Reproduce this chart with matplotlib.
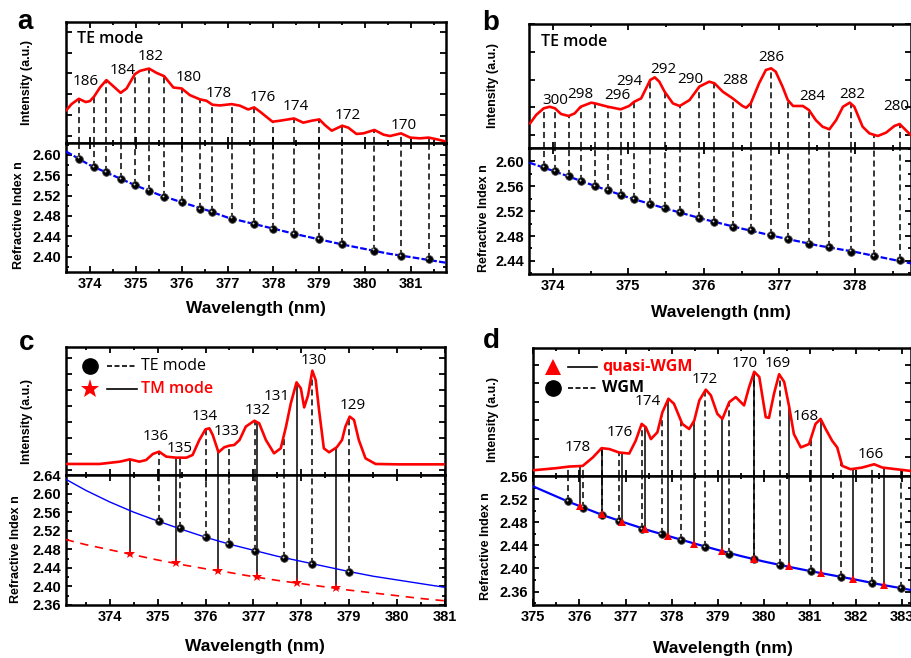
import numpy as np
import matplotlib.pyplot as plt
from matplotlib.ticker import MultipleLocator, FormatStrFormatter, FixedLocator
from matplotlib.transforms import offset_copy

plt.rcParams['font.family'] = ['Liberation Sans', 'DejaVu Sans']
plt.rcParams['font.weight'] = 'bold'
NUM_FONT = ['Open Sans', 'DejaVu Sans']

W, H = 912, 658
RED = '#ff0000'
BLUE = '#0000ff'

# ---------------- panel a (TE mode) ----------------
a_te_wl = [373.76, 374.09, 374.36, 374.67, 374.98, 375.29, 375.62, 376.00, 376.40, 376.67,
           377.09, 377.58, 377.98, 378.45, 379.00, 379.50, 380.20, 380.78, 381.38]
a_te_n = [2.593, 2.577, 2.566, 2.553, 2.541, 2.530, 2.518, 2.507, 2.494, 2.487,
          2.475, 2.464, 2.455, 2.445, 2.434, 2.424, 2.412, 2.402, 2.395]
a_fit_wl = [373.48, 374.0, 374.5, 375.0, 375.5, 376.0, 376.5, 377.0, 377.5, 378.0,
            378.5, 379.0, 379.5, 380.0, 380.5, 381.0, 381.76]
a_fit_n = [2.607, 2.580, 2.560, 2.540, 2.522, 2.507, 2.493, 2.477, 2.466, 2.455,
           2.444, 2.434, 2.424, 2.415, 2.406, 2.399, 2.388]
a_spec_wl = [373.49, 373.60, 373.76, 373.91, 374.00, 374.09, 374.22, 374.36, 374.51, 374.67,
             374.80, 374.98, 375.09, 375.29, 375.45, 375.62, 375.82, 376.00, 376.18, 376.40,
             376.54, 376.67, 376.83, 377.09, 377.27, 377.45, 377.58, 377.71, 377.98, 378.14,
             378.45, 378.65, 378.83, 379.00, 379.12, 379.27, 379.50, 379.63, 379.81, 379.96,
             380.20, 380.40, 380.54, 380.78, 380.98, 381.19, 381.38, 381.56, 381.76]
a_spec_int = [27.4, 32.3, 36.7, 34.0, 34.8, 38.4, 46.0, 52.1, 47.1, 41.6,
              45.2, 57.0, 59.7, 61.6, 58.1, 55.3, 46.0, 45.2, 39.7, 36.2,
              35.1, 31.8, 31.2, 32.3, 31.0, 27.9, 29.6, 26.0, 17.8, 18.6,
              20.5, 17.0, 18.6, 19.7, 15.1, 10.4, 14.5, 12.9, 7.7, 8.2,
              11.0, 7.1, 6.0, 8.2, 4.7, 4.1, 4.7, 3.3, 1.4]
a_lab_txt = ['186', '184', '182', '180', '178', '176', '174', '172', '170']
a_lab_wl = [373.91, 374.71, 375.32, 376.16, 376.81, 377.76, 378.48, 379.63, 380.83]
a_lab_int = [50.7, 59.7, 71.2, 54.0, 41.0, 37.5, 30.0, 23.3, 15.0]

# ---------------- panel b (TE mode) ----------------
b_te_wl = [373.88, 374.03, 374.21, 374.37, 374.56, 374.73, 374.90, 375.08, 375.29, 375.48, 375.68,
           375.94, 376.14, 376.38, 376.62, 376.89, 377.11, 377.39, 377.66, 377.95, 378.25, 378.59]
b_te_n = [2.591, 2.585, 2.576, 2.568, 2.561, 2.554, 2.546, 2.539, 2.531, 2.525, 2.518,
          2.509, 2.502, 2.495, 2.489, 2.481, 2.475, 2.468, 2.462, 2.455, 2.448, 2.441]
b_fit_wl = [373.69, 374.0, 374.5, 375.0, 375.5, 376.0, 376.5, 377.0, 377.5, 378.0, 378.74]
b_fit_n = [2.598, 2.585, 2.563, 2.542, 2.524, 2.507, 2.492, 2.478, 2.465, 2.4545, 2.436]
b_spec_wl = [373.70, 373.78, 373.88, 373.96, 374.03, 374.11, 374.21, 374.29, 374.37, 374.51,
             374.56, 374.73, 374.90, 375.01, 375.08, 375.17, 375.29, 375.35, 375.41, 375.48,
             375.59, 375.68, 375.81, 375.94, 376.07, 376.14, 376.25, 376.38, 376.51, 376.56,
             376.62, 376.73, 376.82, 376.89, 376.95, 377.04, 377.11, 377.18, 377.31, 377.39,
             377.48, 377.57, 377.66, 377.75, 377.84, 377.93, 377.99, 378.10, 378.19, 378.30,
             378.41, 378.52, 378.59, 378.67, 378.74]
b_spec_int = [19.7, 26.5, 31.9, 33.2, 31.9, 27.3, 25.7, 27.8, 33.2, 36.5,
              35.9, 33.2, 31.1, 33.8, 37.3, 40.0, 54.9, 57.0, 53.5, 45.4,
              35.9, 33.8, 38.6, 49.5, 53.5, 52.2, 45.4, 40.0, 33.8, 32.4,
              35.9, 52.2, 63.0, 64.3, 61.6, 49.5, 38.6, 33.8, 33.8, 30.5,
              22.4, 17.0, 14.9, 22.4, 33.2, 36.5, 33.2, 17.0, 11.6, 9.5,
              12.2, 17.6, 19.2, 14.3, 10.0]
b_lab_txt = ['300', '298', '296', '294', '292', '290', '288', '286', '284', '282', '280']
b_lab_wl = [374.04, 374.37, 374.85, 375.01, 375.46, 375.82, 376.42, 376.89, 377.43, 377.97, 378.54]
b_lab_int = [38.6, 43.2, 41.9, 53.5, 63.0, 54.9, 54.3, 73.2, 41.4, 43.2, 33.2]

# ---------------- panel c (TE / TM) ----------------
c_te_wl = [375.03, 375.46, 376.00, 376.48, 377.04, 377.64, 378.23, 378.99]
c_te_n = [2.540, 2.525, 2.506, 2.492, 2.477, 2.462, 2.449, 2.431]
c_tm_wl = [374.42, 375.39, 376.27, 377.07, 377.90, 378.72]
c_tm_n = [2.469, 2.450, 2.433, 2.420, 2.407, 2.396]
c_fit_wl = [373.08, 373.5, 374.0, 374.5, 375.0, 375.5, 376.0, 376.5, 377.0, 377.5, 378.0,
            378.5, 379.0, 379.5, 380.0, 380.5, 381.0]
c_te_fit_n = [2.631, 2.607, 2.582, 2.560, 2.541, 2.523, 2.506, 2.491, 2.478, 2.465, 2.454,
              2.443, 2.432, 2.422, 2.414, 2.406, 2.398]
c_tm_fit_n = [2.501, 2.490, 2.479, 2.468, 2.457, 2.447, 2.438, 2.430, 2.421, 2.413, 2.406,
              2.399, 2.392, 2.386, 2.380, 2.374, 2.369]
c_spec_wl = [373.08, 373.79, 374.21, 374.42, 374.62, 374.76, 374.90, 375.03, 375.18, 375.39,
             375.60, 375.73, 375.87, 376.00, 376.08, 376.15, 376.27, 376.39, 376.50, 376.60,
             376.71, 376.84, 377.02, 377.12, 377.26, 377.43, 377.57, 377.68, 377.78, 377.90,
             377.99, 378.06, 378.14, 378.23, 378.30, 378.37, 378.47, 378.58, 378.74, 378.85,
             378.92, 379.01, 379.10, 379.20, 379.34, 379.55, 380.03, 380.97]
c_spec_int = [8.6, 8.6, 10.4, 12.2, 10.4, 11.7, 16.4, 18.2, 14.3, 13.5,
              13.5, 15.6, 27.3, 35.6, 36.4, 31.2, 17.7, 21.6, 22.9, 23.4,
              27.3, 37.7, 42.3, 40.3, 27.3, 16.9, 20.8, 37.7, 55.8, 72.2,
              67.5, 52.7, 62.0, 81.3, 74.0, 50.6, 20.8, 17.7, 21.6, 27.3,
              37.7, 45.5, 42.9, 27.3, 13.0, 8.6, 8.3, 8.3]
c_lab_txt = ['136', '135', '134', '133', '132', '131', '130', '129']
c_lab_wl = [374.96, 375.46, 375.99, 376.45, 377.09, 377.49, 378.25, 379.08]
c_lab_int = [29.9, 20.8, 45.5, 33.8, 50.1, 61.0, 89.1, 54.0]

# ---------------- panel d (WGM / quasi-WGM) ----------------
d_wgm_wl = [375.75, 376.08, 376.48, 376.86, 377.35, 377.78, 378.20, 378.73, 379.24, 379.79,
            380.34, 381.03, 381.67, 382.34, 382.98]
d_wgm_n = [2.516, 2.5055, 2.4926, 2.4821, 2.4689, 2.4589, 2.449, 2.4375, 2.4258, 2.4165,
           2.4053, 2.3949, 2.3851, 2.3746, 2.3659]
d_qwgm_wl = [376.01, 376.48, 376.92, 377.42, 377.92, 378.49, 379.09, 379.79, 380.55, 381.23,
             381.93, 382.60]
d_qwgm_n = [2.5083, 2.4938, 2.4804, 2.4676, 2.456, 2.4432, 2.4298, 2.417, 2.4036, 2.3921,
            2.3816, 2.3717]
d_fit_wl = [375.0, 375.75, 376.5, 377.0, 377.5, 378.0, 378.5, 379.0, 379.5, 380.0, 380.5,
            381.0, 381.5, 382.0, 382.5, 383.0, 383.2]
d_fit_n = [2.542, 2.516, 2.4925, 2.479, 2.466, 2.4545, 2.443, 2.432, 2.4215, 2.412, 2.4035,
           2.3955, 2.388, 2.3805, 2.3725, 2.3655, 2.3625]
d_spec_wl = [375.00, 375.49, 375.78, 376.07, 376.29, 376.48, 376.65, 376.86, 377.08, 377.22,
             377.35, 377.44, 377.55, 377.69, 377.80, 377.93, 378.05, 378.23, 378.38, 378.49,
             378.60, 378.74, 378.85, 378.99, 379.10, 379.25, 379.39, 379.57, 379.68, 379.79,
             379.90, 380.04, 380.11, 380.22, 380.33, 380.44, 380.55, 380.65, 380.80, 380.98,
             381.12, 381.23, 381.34, 381.48, 381.59, 381.70, 381.88, 382.13, 382.39, 382.57,
             383.20]
d_spec_int = [4.5, 6.1, 7.4, 7.9, 14.5, 21.8, 21.1, 18.4, 17.6, 27.6,
              40.8, 38.2, 28.9, 34.2, 50.0, 60.5, 56.6, 40.8, 36.8, 43.4,
              59.2, 67.6, 63.2, 48.7, 44.7, 57.9, 61.8, 55.3, 69.7, 81.6,
              77.6, 46.1, 45.5, 64.5, 79.7, 73.7, 53.9, 32.9, 22.4, 25.0,
              40.8, 44.7, 36.8, 27.6, 22.4, 7.9, 5.3, 6.6, 9.2, 6.6,
              3.9]
d_lab_txt = ['178', '176', '174', '172', '170', '169', '168', '166']
d_lab_wl = [375.97, 376.88, 377.49, 378.72, 379.59, 380.31, 380.91, 382.31]
d_lab_int = [22.4, 33.7, 58.7, 75.5, 88.2, 88.2, 46.6, 16.6]


fig = plt.figure(figsize=(W / 100, H / 100), dpi=100)


def box(l, t, r, b):
    return [l / W, 1 - b / H, (r - l) / W, (b - t) / H]


def ftext(x, y, s, **kw):
    fig.text(x / W, 1 - y / H, s, **kw)


def style(ax):
    ax.tick_params(which='both', direction='in', top=True, right=True,
                   bottom=True, left=True, width=1.3, labelsize=10.5)
    ax.tick_params(which='major', length=4.5)
    ax.tick_params(which='minor', length=2.5)
    ax.xaxis.set_major_locator(MultipleLocator(1))
    ax.xaxis.set_minor_locator(MultipleLocator(0.5))
    for s in ax.spines.values():
        s.set_linewidth(1.8)


def make_pair(l, t, mid, r, b, xlim, nlim, ytick_int):
    top = fig.add_axes(box(l, t, r, mid))
    bot = fig.add_axes(box(l, mid, r, b))
    for ax in (top, bot):
        style(ax)
        ax.set_xlim(*xlim)
    top.set_ylim(0, 100)
    top.yaxis.set_major_locator(FixedLocator(ytick_int))
    top.tick_params(labelbottom=False, labelleft=False)
    bot.set_ylim(*nlim)
    bot.yaxis.set_major_locator(MultipleLocator(0.04))
    bot.yaxis.set_minor_locator(MultipleLocator(0.02))
    bot.yaxis.set_major_formatter(FormatStrFormatter('%.2f'))
    return top, bot


def spectrum(ax, wl, inten):
    ax.plot(wl, inten, color=RED, lw=1.9, zorder=4)


def drop_lines(top, bot, wl, n, spec_wl, spec_int, ls):
    h = np.interp(wl, spec_wl, spec_int)
    top.vlines(wl, 0, h, colors='black', lw=1.1, linestyles=ls, zorder=3)
    bot.vlines(wl, n, bot.get_ylim()[1], colors='black', lw=1.1, linestyles=ls, zorder=2)


def balls(ax, wl, n, ms=5.5):
    ax.plot(wl, n, 'o', color='black', mec='#444444', mew=0.6, ms=ms, zorder=5)
    hl = offset_copy(ax.transData, fig=fig, x=-0.8, y=0.8, units='points')
    ax.plot(wl, n, 'o', color='#d0d0d0', ms=1.4, mew=0, transform=hl, zorder=6)


def mode_labels(ax, txt, wl, inten):
    for s, x, y in zip(txt, wl, inten):
        ax.text(x, y, s, ha='center', va='center', fontsize=11,
                fontweight='normal', family=NUM_FONT, zorder=7)


DASH = (0, (4, 2.5))

# ---- a ----
at, ab = make_pair(66, 22, 143.3, 446, 271.7, (373.48, 381.76), (2.3704, 2.623),
                   np.arange(6, 100, 17.2))
spectrum(at, a_spec_wl, a_spec_int)
drop_lines(at, ab, a_te_wl, a_te_n, a_spec_wl, a_spec_int, DASH)
ab.plot(a_fit_wl, a_fit_n, color=BLUE, lw=1.6, ls=(0, (3, 1)), zorder=4)
balls(ab, a_te_wl, a_te_n)
mode_labels(at, a_lab_txt, a_lab_wl, a_lab_int)
at.text(0.03, 0.86, 'TE mode', transform=at.transAxes, fontsize=11.5,
        fontweight='semibold', family=NUM_FONT, va='center')

# ---- b ----
bt, bb = make_pair(529.3, 24.3, 147.7, 911, 274.3, (373.69, 378.74), (2.4185, 2.622),
                   np.arange(10.3, 100, 22.4))
spectrum(bt, b_spec_wl, b_spec_int)
drop_lines(bt, bb, b_te_wl, b_te_n, b_spec_wl, b_spec_int, DASH)
bb.plot(b_fit_wl, b_fit_n, color=BLUE, lw=1.6, ls=(0, (3, 1)), zorder=4)
balls(bb, b_te_wl, b_te_n)
mode_labels(bt, b_lab_txt, b_lab_wl, b_lab_int)
bt.text(0.03, 0.86, 'TE mode', transform=bt.transAxes, fontsize=11.5,
        fontweight='semibold', family=NUM_FONT, va='center')

# ---- c ----
ct, cb = make_pair(65.7, 346.7, 475, 445, 605, (373.08, 381.0), (2.36, 2.6401),
                   np.arange(4, 100, 12.5))
spectrum(ct, c_spec_wl, c_spec_int)
drop_lines(ct, cb, c_te_wl, c_te_n, c_spec_wl, c_spec_int, DASH)
drop_lines(ct, cb, c_tm_wl, c_tm_n, c_spec_wl, c_spec_int, 'solid')
cb.plot(c_fit_wl, c_te_fit_n, color=BLUE, lw=1.0, zorder=4)
cb.plot(c_fit_wl, c_tm_fit_n, color=RED, lw=1.2, ls=(0, (5, 4)), zorder=4)
balls(cb, c_te_wl, c_te_n)
cb.plot(c_tm_wl, c_tm_n, '*', color=RED, ms=8, mew=0, zorder=5)
mode_labels(ct, c_lab_txt, c_lab_wl, c_lab_int)
ct.plot([0.064], [0.852], 'o', color='black', ms=11, transform=ct.transAxes)
ct.plot([0.109, 0.188], [0.852, 0.852], color='black', lw=1.2, ls=(0, (3, 1.5)),
        transform=ct.transAxes)
ct.text(0.198, 0.852, 'TE mode', transform=ct.transAxes, fontsize=11.5,
        fontweight='normal', family=NUM_FONT, va='center')
ct.plot([0.064], [0.670], '*', color=RED, ms=14, mew=0, transform=ct.transAxes)
ct.plot([0.109, 0.188], [0.670, 0.670], color='black', lw=1.2, transform=ct.transAxes)
ct.text(0.198, 0.670, 'TM mode', transform=ct.transAxes, fontsize=11.5, color=RED,
        fontweight='semibold', family=NUM_FONT, va='center')

# ---- d ----
dt, db = make_pair(533.3, 348.3, 476, 911, 605, (375.0, 383.19), (2.3367, 2.5601),
                   np.arange(14.5, 100, 14.5))
spectrum(dt, d_spec_wl, d_spec_int)
drop_lines(dt, db, d_wgm_wl, d_wgm_n, d_spec_wl, d_spec_int, DASH)
drop_lines(dt, db, d_qwgm_wl, d_qwgm_n, d_spec_wl, d_spec_int, 'solid')
db.plot(d_fit_wl, d_fit_n, color=BLUE, lw=1.6, zorder=4)
balls(db, d_wgm_wl, d_wgm_n)
db.plot(d_qwgm_wl, d_qwgm_n, '^', color=RED, ms=5.5, mew=0, zorder=6)
mode_labels(dt, d_lab_txt, d_lab_wl, d_lab_int)
dt.plot([0.051], [0.856], '^', color=RED, ms=11, mew=0, transform=dt.transAxes)
dt.plot([0.092, 0.169], [0.856, 0.856], color='black', lw=1.2, transform=dt.transAxes)
dt.text(0.182, 0.856, 'quasi-WGM', transform=dt.transAxes, fontsize=11.5, color=RED,
        fontweight='bold', family=NUM_FONT, va='center')
dt.plot([0.051], [0.687], 'o', color='black', ms=11, transform=dt.transAxes)
dt.plot([0.092, 0.169], [0.687, 0.687], color='black', lw=1.2, ls=(0, (3, 1.5)),
        transform=dt.transAxes)
dt.text(0.182, 0.687, 'WGM', transform=dt.transAxes, fontsize=11.5,
        fontweight='bold', family=NUM_FONT, va='center')

# ---- axis titles and panel letters ----
for x, y in [(27, 82.5), (492.7, 86), (26.7, 421), (492.7, 420)]:
    ftext(x, y, 'Intensity (a.u.)', rotation=90, ha='center', va='center', fontsize=9)
for x, y in [(19, 215), (484, 218), (16, 549), (486, 546)]:
    ftext(x, y, 'Refractive Index n', rotation=90, ha='center', va='center', fontsize=9)
for x, y in [(256, 308), (721, 313), (255, 647), (723, 648)]:
    ftext(x, y, 'Wavelength (nm)', ha='center', va='center', fontsize=12.5)
for x, y, s in [(25, 22, 'a'), (491, 22.5, 'b'), (26.7, 342.5, 'c'), (491, 340.7, 'd')]:
    ftext(x, y, s, ha='center', va='center', fontsize=20)

fig.savefig('out.png', dpi=100)
